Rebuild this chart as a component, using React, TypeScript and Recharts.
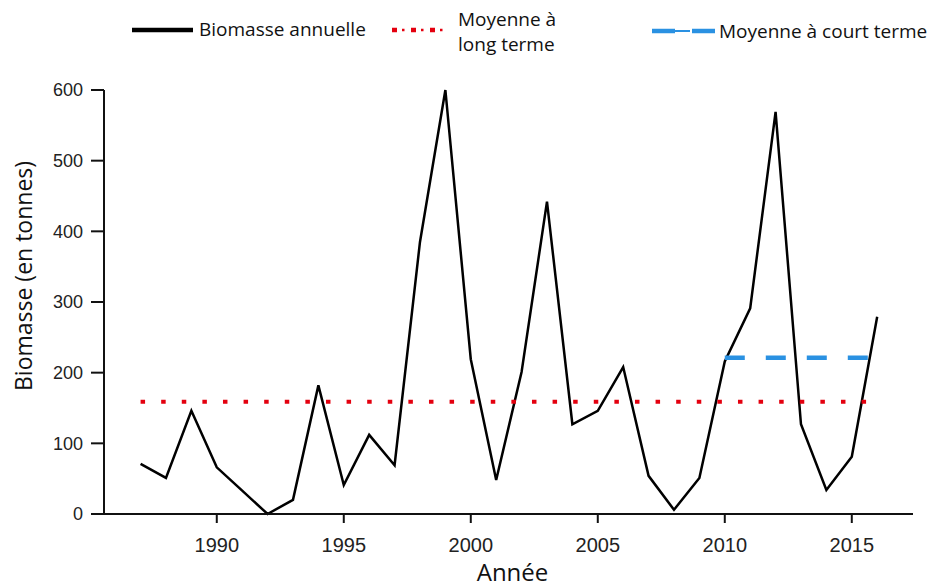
import React from 'react';
import { LineChart, Line, XAxis, YAxis, ReferenceLine } from 'recharts';

const years = [1987, 1988, 1989, 1990, 1991, 1992, 1993, 1994, 1995, 1996, 1997, 1998, 1999, 2000, 2001, 2002, 2003, 2004, 2005, 2006, 2007, 2008, 2009, 2010, 2011, 2012, 2013, 2014, 2015, 2016];
const biomass = [71, 51, 146, 66, 33, 0, 20, 182, 41, 112, 69, 385, 600, 219, 48, 201, 442, 127, 146, 208, 54, 6, 51, 216, 291, 569, 127, 34, 81, 279];
const longTermMean = 159;
const shortTermMean = 221;
const shortTermStart = 2010;
const xTicks = [1990, 1995, 2000, 2005, 2010, 2015];
const yTicks = [0, 100, 200, 300, 400, 500, 600];

const data = years.map((year, i) => ({
  year,
  biomass: biomass[i],
  longTerm: longTermMean,
  shortTerm: year >= shortTermStart ? shortTermMean : null,
}));

const RED = '#e4000f';
const BLUE = '#2a91e2';
const LEGEND_FONT = '"Open Sans", sans-serif';
const TICK_FONT = '"Liberation Sans", Arial, sans-serif';

const Legend = () => (
  <svg width={929} height={70} style={{ position: 'absolute', left: 0, top: 0 }}>
    <line x1={132} x2={193} y1={30} y2={30} stroke="#000" strokeWidth={4.5} />
    <text x={199} y={36} fontFamily={LEGEND_FONT} fontSize={19} fill="#111">Biomasse annuelle</text>
    <line x1={392} x2={446} y1={30} y2={30} stroke={RED} strokeWidth={4.5} strokeDasharray="5 14" />
    <line x1={402} x2={446} y1={30} y2={30} stroke={RED} strokeWidth={2.5} strokeDasharray="2.5 16.5" />
    <text x={458} y={26} fontFamily={LEGEND_FONT} fontSize={19} fill="#111">Moyenne à</text>
    <text x={458} y={51} fontFamily={LEGEND_FONT} fontSize={19} fill="#111">long terme</text>
    <line x1={652} x2={675} y1={31} y2={31} stroke={BLUE} strokeWidth={4.5} />
    <line x1={675} x2={690} y1={31} y2={31} stroke={BLUE} strokeWidth={2} />
    <line x1={692} x2={715} y1={31} y2={31} stroke={BLUE} strokeWidth={4.5} />
    <text x={719} y={38} fontFamily={LEGEND_FONT} fontSize={19} fill="#111">Moyenne à court terme</text>
  </svg>
);

const YLabel = (props: any) => {
  const vb = props.viewBox || { x: 0, y: 90, width: 104, height: 424 };
  const cx = 23;
  const cy = vb.y + vb.height / 2 - 26;
  return (
    <text
      x={cx}
      y={cy}
      transform={`rotate(-90 ${cx} ${cy})`}
      textAnchor="middle"
      dominantBaseline="central"
      fontFamily={LEGEND_FONT}
      fontSize={23}
      fill="#111"
    >
      Biomasse (en tonnes)
    </text>
  );
};

const XLabel = (props: any) => {
  const vb = props.viewBox || { x: 104, y: 514, width: 809, height: 74 };
  const cx = vb.x + vb.width / 2 + 4;
  return (
    <text x={cx} y={581} textAnchor="middle" fontFamily={LEGEND_FONT} fontSize={24} fill="#111">
      Année
    </text>
  );
};

export default function App() {
  return (
    <div style={{ position: 'absolute', left: 0, top: 0, width: 929, height: 588, background: '#fff' }}>
      <Legend />
      <LineChart
        width={929}
        height={588}
        data={data}
        margin={{ top: 90, right: 16, bottom: 0, left: 0 }}
        style={{ position: 'absolute', left: 0, top: 0 }}
      >
        <XAxis
          dataKey="year"
          type="number"
          domain={[1985.56, 2017.41]}
          ticks={xTicks}
          height={74}
          tickSize={9}
          tickMargin={15}
          axisLine={{ stroke: '#111', strokeWidth: 2 }}
          tickLine={{ stroke: '#111', strokeWidth: 2 }}
          tick={{ fill: '#222', fontSize: 20, fontFamily: TICK_FONT }}
          label={<XLabel />}
        />
        <YAxis
          type="number"
          domain={[0, 600]}
          ticks={yTicks}
          width={104}
          tickSize={13}
          tickMargin={8}
          axisLine={{ stroke: '#111', strokeWidth: 2 }}
          tickLine={{ stroke: '#111', strokeWidth: 2 }}
          tick={{ fill: '#222', fontSize: 18, fontFamily: TICK_FONT }}
          label={<YLabel />}
        />
        <ReferenceLine
          segment={[{ x: 1985.09, y: 0 }, { x: 1985.56, y: 0 }]}
          ifOverflow="visible"
          stroke="#111"
          strokeWidth={2}
        />
        <Line
          dataKey="biomass"
          type="linear"
          stroke="#000"
          strokeWidth={2.5}
          dot={false}
          activeDot={false}
          isAnimationActive={false}
        />
        <Line
          dataKey="longTerm"
          type="linear"
          stroke={RED}
          strokeWidth={4}
          strokeDasharray="4.5 16.1"
          dot={false}
          activeDot={false}
          isAnimationActive={false}
        />
        <Line
          dataKey="shortTerm"
          type="linear"
          stroke={BLUE}
          strokeWidth={4.5}
          strokeDasharray="20 21"
          dot={false}
          activeDot={false}
          connectNulls={false}
          isAnimationActive={false}
        />
      </LineChart>
    </div>
  );
}
